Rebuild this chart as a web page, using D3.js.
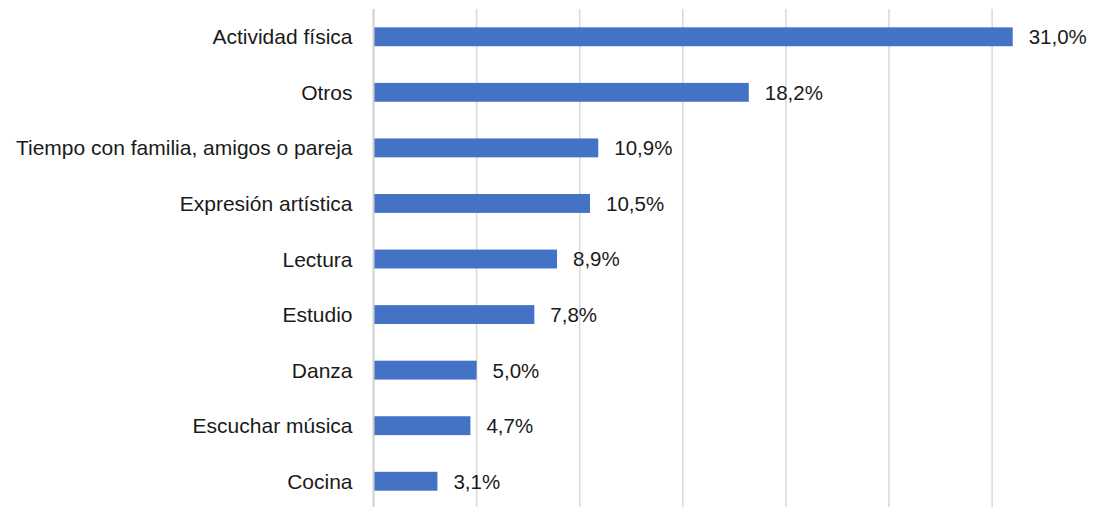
<!DOCTYPE html>
<html>
<head>
<meta charset="utf-8">
<script src="https://cdn.jsdelivr.net/npm/d3@7"></script>
<style>
  body { margin: 0; background: #fff; }
  svg text { font-family: "Liberation Sans", Arial, sans-serif; fill: #1a1a1a; }
</style>
</head>
<body>
<div id="chart"></div>
<script>
// data
var categories = ["Actividad física", "Otros", "Tiempo con familia, amigos o pareja",
    "Expresión artística", "Lectura", "Estudio", "Danza", "Escuchar música", "Cocina"];
var values = [31.0, 18.2, 10.9, 10.5, 8.9, 7.8, 5.0, 4.7, 3.1];
var gridTicks = [5, 10, 15, 20, 25, 30];

var width = 1094, height = 507;
var margin = { top: 9, left: 373.5 };

var svg = d3.select("#chart")
    .append("svg")
    .attr("width", width)
    .attr("height", height);

var x = d3.scaleLinear()
    .domain([0, 35])
    .range([margin.left, margin.left + 35 * 20.62]);

var y = d3.scaleBand()
    .domain(categories)
    .range([margin.top, margin.top + 55.56 * categories.length])
    .paddingInner(0.66)
    .paddingOuter(0.33);

var fmt = function (v) { return v.toFixed(1).replace(".", ",") + "%"; };

// vertical gridlines
svg.append("g")
    .selectAll("line")
    .data(gridTicks)
    .enter().append("line")
    .attr("x1", function (d) { return x(d); })
    .attr("x2", function (d) { return x(d); })
    .attr("y1", margin.top)
    .attr("y2", height)
    .style("stroke", "#d9d9d9")
    .style("stroke-width", 1.5);

// bars
svg.append("g")
    .selectAll("rect")
    .data(values)
    .enter().append("rect")
    .attr("x", x(0))
    .attr("y", function (d, i) { return y(categories[i]); })
    .attr("width", function (d) { return x(d) - x(0); })
    .attr("height", y.bandwidth())
    .style("fill", "#4472c4");

// axis line
svg.append("line")
    .attr("x1", x(0))
    .attr("x2", x(0))
    .attr("y1", margin.top)
    .attr("y2", height)
    .style("stroke", "#d0d0d0")
    .style("stroke-width", 2);

// value labels
svg.append("g")
    .selectAll("text")
    .data(values)
    .enter().append("text")
    .attr("x", function (d) { return x(d) + 16; })
    .attr("y", function (d, i) { return y(categories[i]) + y.bandwidth() / 2; })
    .attr("dy", "0.36em")
    .style("font-size", "20.5px")
    .text(fmt);

// category labels
svg.append("g")
    .selectAll("text")
    .data(categories)
    .enter().append("text")
    .attr("x", x(0) - 21)
    .attr("y", function (d) { return y(d) + y.bandwidth() / 2; })
    .attr("dy", "0.36em")
    .attr("text-anchor", "end")
    .style("font-size", "21px")
    .text(function (d) { return d; });
</script>
</body>
</html>
